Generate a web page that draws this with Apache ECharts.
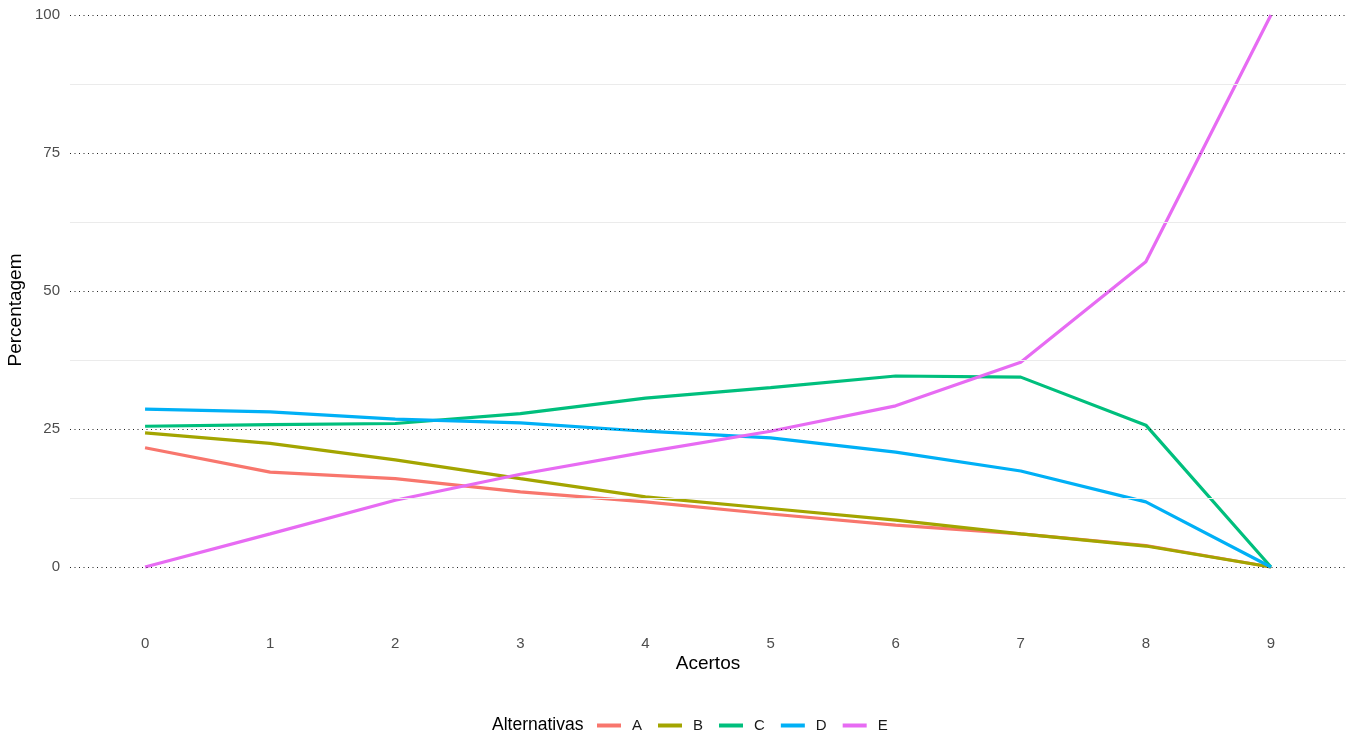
<!DOCTYPE html>
<html>
<head>
<meta charset="utf-8">
<script src="https://cdn.jsdelivr.net/npm/echarts@6/dist/echarts.min.js"></script>
<style>html,body{margin:0;padding:0;background:#fff;}#c{width:1358px;height:742px;}</style>
</head>
<body>
<div id="c"></div>
<script>
const acertos = [0, 1, 2, 3, 4, 5, 6, 7, 8, 9];
const serieA = [21.6, 17.2, 16.0, 13.6, 11.8, 9.6, 7.6, 6.0, 3.9, 0];
const serieB = [24.3, 22.4, 19.4, 16.0, 12.7, 10.6, 8.5, 6.0, 3.8, 0];
const serieC = [25.5, 25.8, 26.0, 27.8, 30.6, 32.5, 34.6, 34.4, 25.7, 0];
const serieD = [28.6, 28.1, 26.8, 26.1, 24.6, 23.4, 20.8, 17.4, 11.8, 0];
const serieE = [0, 6.0, 12.1, 16.8, 20.8, 24.6, 29.2, 37.1, 55.3, 100];
const nomes = ['A', 'B', 'C', 'D', 'E'];
const cores = ['#F8766D', '#A3A500', '#00BF7D', '#00B0F6', '#E76BF3'];
const yTicks = [0, 25, 50, 75, 100];
const yMinor = [12.5, 37.5, 62.5, 87.5];

const FONT = 'Liberation Sans, Arial, sans-serif';
const valores = [serieA, serieB, serieC, serieD, serieE];

const chart = echarts.init(document.getElementById('c'), null, {renderer: 'canvas'});

const lineSeries = valores.map((v, i) => ({
  name: nomes[i],
  type: 'line',
  data: acertos.map((x, j) => [x, v[j]]),
  showSymbol: false,
  symbol: 'none',
  lineStyle: {color: cores[i], width: 3.2},
  itemStyle: {color: cores[i]},
  z: 3,
  animation: false
}));

const gridSeries = {
  name: 'grid',
  type: 'line',
  data: [],
  z: 1,
  silent: true,
  animation: false,
  markLine: {
    silent: true,
    symbol: ['none', 'none'],
    animation: false,
    label: {show: false},
    data: [
      ...yMinor.map(v => ({yAxis: v, lineStyle: {color: '#ebebeb', width: 1, type: 'solid'}})),
      ...yTicks.map(v => ({yAxis: v, lineStyle: {color: '#222', width: 1, type: [1, 3.5]}}))
    ]
  }
};

chart.setOption({
  backgroundColor: '#ffffff',
  animation: false,
  textStyle: {fontFamily: FONT},
  grid: {left: 70, right: 12, top: 15, bottom: 111.5, containLabel: false},
  xAxis: {
    type: 'value',
    min: -0.6,
    max: 9.6,
    axisLine: {show: false},
    axisTick: {show: false},
    splitLine: {show: false},
    axisLabel: {
      customValues: acertos,
      color: '#4d4d4d',
      fontSize: 15,
      fontFamily: FONT,
      margin: 6
    }
  },
  yAxis: {
    type: 'value',
    min: -11.5,
    max: 100,
    axisLine: {show: false},
    axisTick: {show: false},
    splitLine: {show: false},
    axisLabel: {
      customValues: yTicks,
      color: '#4d4d4d',
      fontSize: 15,
      fontFamily: FONT,
      margin: 10
    }
  },
  legend: {
    data: nomes,
    left: 597,
    top: 718,
    padding: 0,
    icon: 'rect',
    itemWidth: 24,
    itemHeight: 4,
    itemGap: 16,
    textStyle: {fontSize: 15, color: '#1a1a1a', fontFamily: FONT, padding: [0, 0, 0, 6]}
  },
  graphic: [
    {type: 'text', x: 492, y: 725, style: {text: 'Alternativas', fontSize: 17.5, fill: '#000', fontFamily: FONT, align: 'left', verticalAlign: 'middle'}},
    {type: 'text', x: 708, y: 664, style: {text: 'Acertos', fontSize: 19, fill: '#000', fontFamily: FONT, align: 'center', verticalAlign: 'middle'}},
    {type: 'text', x: 16, y: 310, rotation: Math.PI / 2, style: {text: 'Percentagem', fontSize: 19, fill: '#000', fontFamily: FONT, align: 'center', verticalAlign: 'middle'}}
  ],
  series: [gridSeries, ...lineSeries]
});
</script>
</body>
</html>
